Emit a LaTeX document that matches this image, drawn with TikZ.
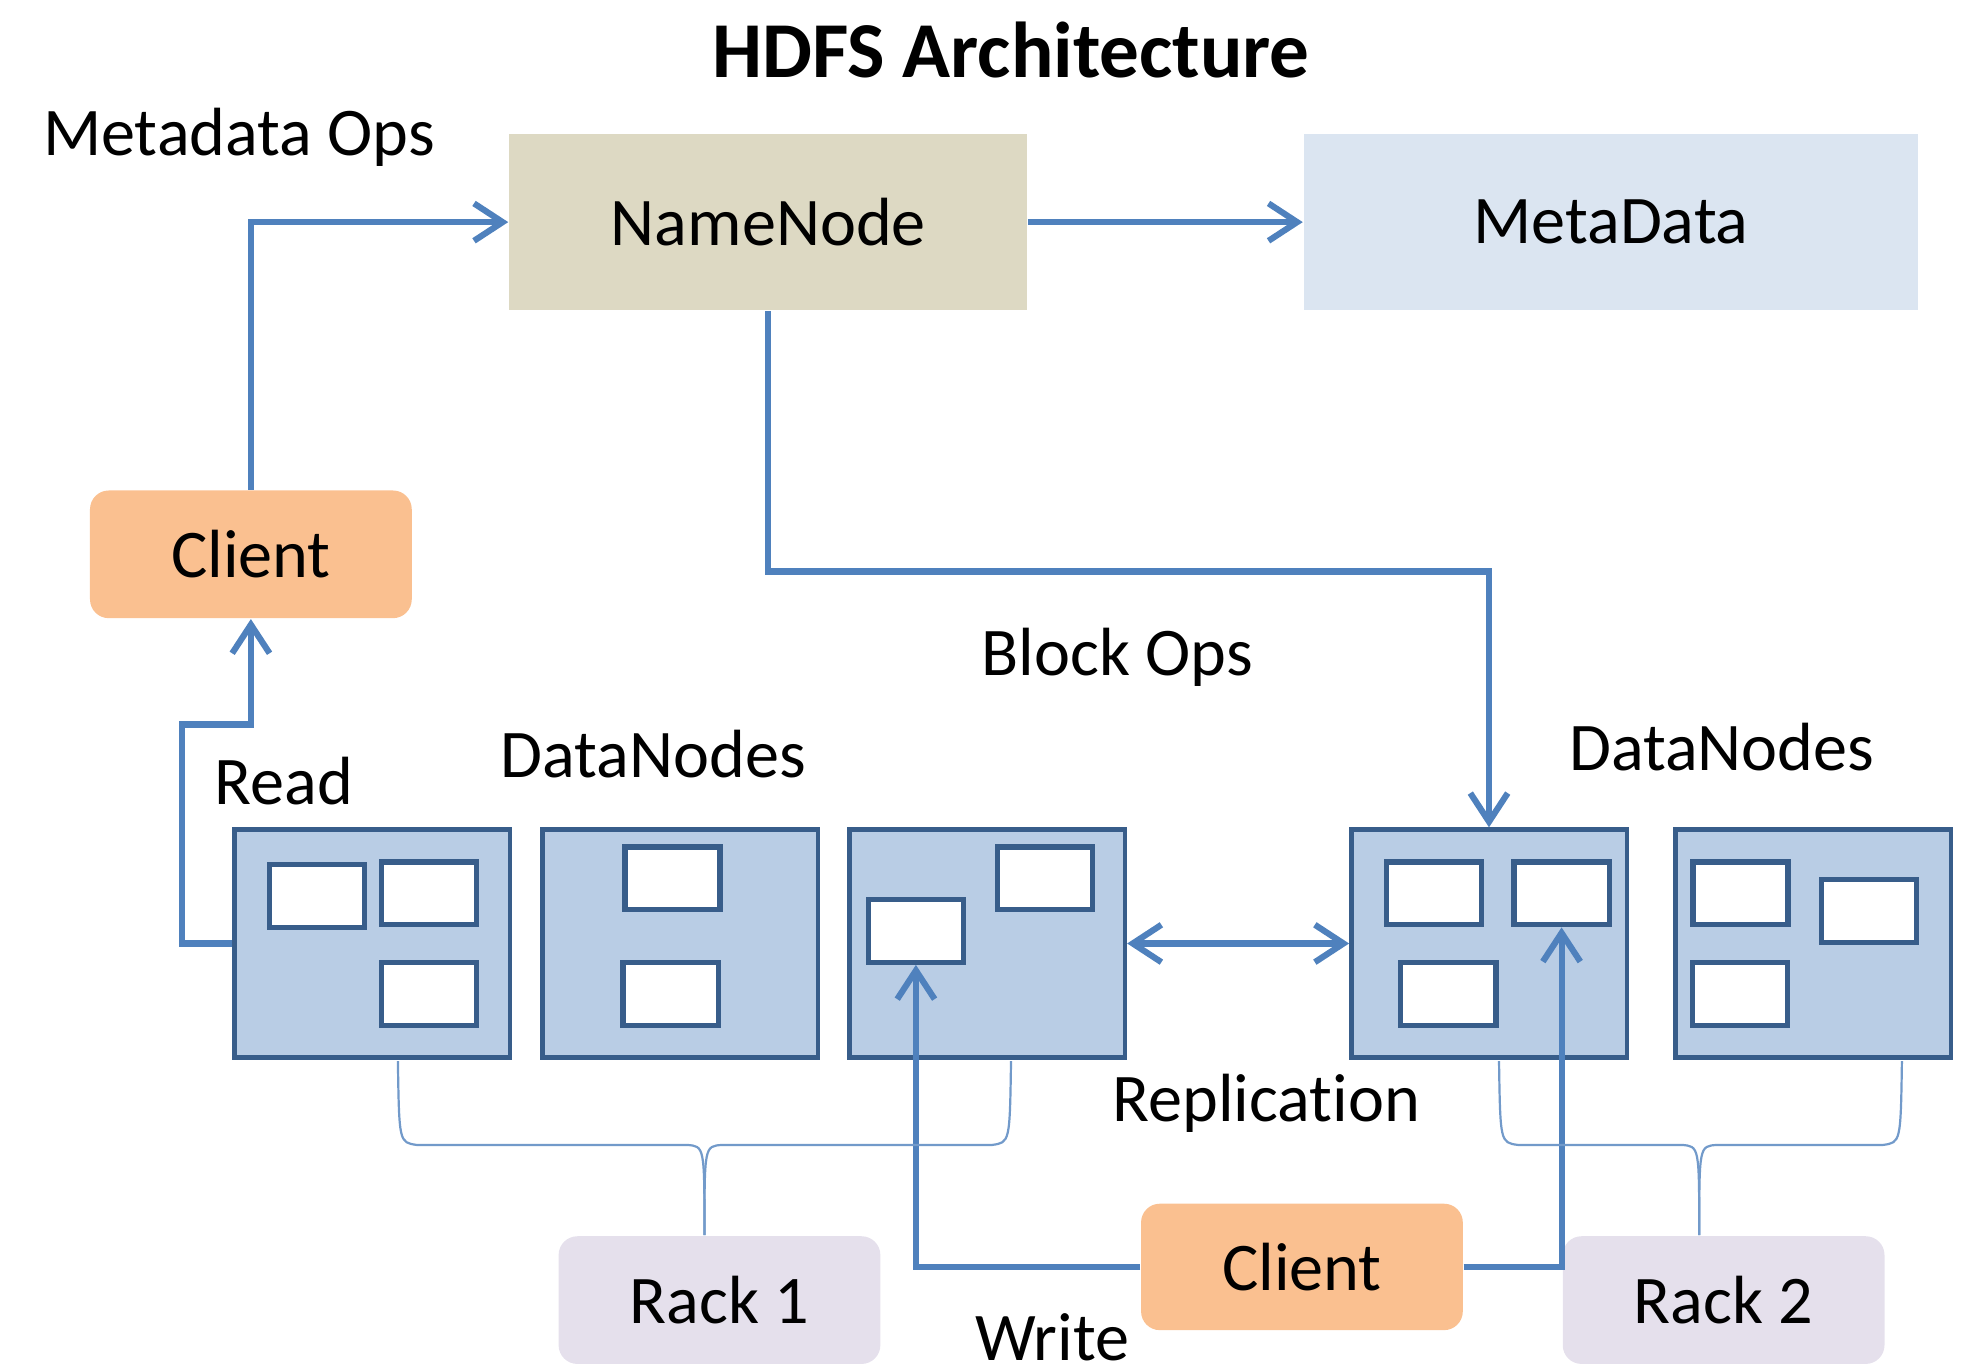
\documentclass[tikz,border=0pt]{standalone}
\usepackage{fontspec}
\setmainfont[Ligatures=NoCommon]{Carlito}
\usetikzlibrary{arrows.meta}
\definecolor{nnfill}{HTML}{DDD9C3}
\definecolor{mdfill}{HTML}{DBE5F1}
\definecolor{clfill}{HTML}{FAC090}
\definecolor{rkfill}{HTML}{E5E0EC}
\definecolor{dnfill}{HTML}{B9CDE5}
\definecolor{dnline}{HTML}{385D8A}
\definecolor{arrblue}{HTML}{4F81BD}
\tikzset{hdbarb/.tip={Straight Barb[length=6.5pt,width=8.5pt,line width=1.4pt]}}
\begin{document}
\begin{tikzpicture}[x=0.01cm,y=-0.01cm,
    every node/.style={font=\fontsize{15.5}{18}\selectfont},
    bigbox/.style={minimum height=1.41cm,inner sep=0pt},
    roundbox/.style={rounded corners=0.15cm,minimum width=2.57cm,minimum height=1.02cm,inner sep=0pt},
    dnbox/.style={draw=dnline,line width=1pt,fill=dnfill,minimum width=2.2cm,minimum height=1.82cm,inner sep=0pt},
    blk/.style={draw=dnline,line width=1.2pt,fill=white,minimum width=0.76cm,minimum height=0.5cm,inner sep=0pt},
    arr/.style={draw=arrblue,line width=1.4pt,-hdbarb},
    brc/.style={draw=arrblue!80,line width=0.5pt}]
    \useasboundingbox (0,0) rectangle (1568,1096);
    % title and labels
    \node[font=\fontsize{18}{22}\selectfont\bfseries] (title) at (808,40) {HDFS Architecture};
    \node (mdops) at (191,110) {Metadata Ops};
    \node (blkops) at (893,525) {Block Ops};
    \node (readlbl) at (227,624) {Read};
    \node (dnlbl1) at (522,603) {DataNodes};
    \node (dnlbl2) at (1376,597) {DataNodes};
    \node (repllbl) at (1012,882) {Replication};
    \node[inner sep=0pt] (writelbl) at (841,1069) {Write};
    % top row
    \node[bigbox,fill=nnfill,minimum width=4.14cm] (namenode) at (614,177.5) {NameNode};
    \node[bigbox,fill=mdfill,minimum width=4.91cm] (metadata) at (1287.5,177.5) {MetaData};
    \node[roundbox,fill=clfill] (client1) at (200.5,443) {Client};
    % bottom row
    \node[roundbox,fill=clfill,minimum height=1.01cm] (client2) at (1040.5,1012.5) {Client};
    \node[roundbox,fill=rkfill] (rack1) at (575,1039) {Rack 1};
    \node[roundbox,fill=rkfill] (rack2) at (1377.5,1039) {Rack 2};
    % datanodes
    \foreach \name/\x in {dn1/297.5,dn2/543.5,dn3/789,dn4/1190,dn5/1449}
        \node[dnbox] (\name) at (\x,754) {};
    % blocks
    \foreach \name/\x/\y in {b11/253.5/716,b12/343/714,b13/343/794.5,
                            b21/537.5/702,b22/536/794.5,
                            b31/835/702,b32/732/744,
                            b41/1146/714,b42/1248/714,b43/1157.5/794.5,
                            b51/1391/714,b52/1493.5/728,b53/1390.5/794.5}
        \node[blk] (\name) at (\x,\y) {};
    % arrows
    \draw[arr] (client1.north) |- (namenode.west);
    \draw[arr] (namenode.east) -- (metadata.west);
    \draw[arr] (namenode.south) -- ++(0,208) -| (dn4.north);
    \draw[arr] (dn1.west) -- ++(-40,0) -- ++(0,-175) -| (client1.south);
    \draw[arr,hdbarb-hdbarb] (dn3.east) -- (dn4.west);
    \draw[arr] (client2.west) -| (b32.south);
    \draw[arr] (client2.east) -| (b42.south);
    % rack braces
    \coordinate (tip1) at (563,987);
    \coordinate (tip2) at (1358,987);
    \draw[brc] (318,848) .. controls (319,913) .. (333,915) -- (549,915) .. controls (563,916) .. (tip1);
    \draw[brc] (808,848) .. controls (807,913) .. (793,915) -- (577,915) .. controls (563,916) .. (tip1);
    \draw[brc] (1198,848) .. controls (1199,913) .. (1213,915) -- (1344,915) .. controls (1358,916) .. (tip2);
    \draw[brc] (1520,848) .. controls (1519,913) .. (1505,915) -- (1372,915) .. controls (1358,916) .. (tip2);
\end{tikzpicture}
\end{document}
